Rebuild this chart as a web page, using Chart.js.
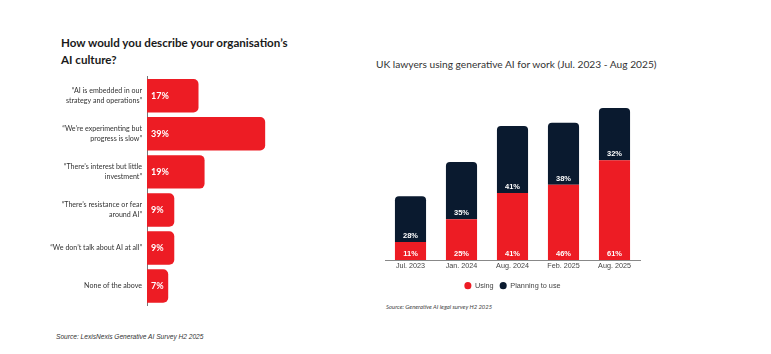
<!DOCTYPE html>
<html>
<head>
<meta charset="utf-8">
<script src="https://cdn.jsdelivr.net/npm/chart.js@4.4.1/dist/chart.umd.min.js"></script>
<style>
  body { margin: 0; background: #fff; width: 771px; height: 354px; position: relative; overflow: hidden; font-family: Lato, sans-serif; }
  .abs { position: absolute; white-space: nowrap; }
  #leftTitle { left: 61px; top: 34px; font-weight: bold; font-size: 11.6px; line-height: 17px; color: #1a1a1a; }
  #rightTitle { left: 376px; top: 58px; font-size: 10.2px; color: #333; }
  #leftSource { left: 56px; top: 333px; font-family: "Liberation Sans", Arial, sans-serif; font-style: italic; font-size: 6.6px; color: #333; }
  #rightSource { left: 386px; top: 303px; font-style: italic; font-size: 5.9px; color: #444; }
  #leftWrap { left: 0; top: 60px; width: 300px; height: 260px; }
  #rightWrap { left: 373px; top: 90px; width: 290px; height: 210px; }
</style>
</head>
<body>
<div class="abs" id="leftTitle">How would you describe your organisation’s<br>AI culture?</div>
<div class="abs" id="rightTitle">UK lawyers using generative AI for work (Jul. 2023 - Aug 2025)</div>
<div class="abs" id="leftWrap"><canvas id="leftChart"></canvas></div>
<div class="abs" id="rightWrap"><canvas id="rightChart"></canvas></div>
<div class="abs" id="rightSource">Source: Generative AI legal survey H2 2025</div>
<div class="abs" id="leftSource">Source: LexisNexis Generative AI Survey H2 2025</div>

<script>
// culture question
var cultureLabels = [
  ["“AI is embedded in our", "strategy and operations”"],
  ["“We’re experimenting but", "progress is slow”"],
  ["“There’s interest but little", "investment”"],
  ["“There’s resistance or fear", "around AI”"],
  "“We don’t talk about AI at all”",
  "None of the above"
];
var cultureValues = [17, 39, 19, 9, 9, 7];

// usage over time
var periods = ["Jul. 2023", "Jan. 2024", "Aug. 2024", "Feb. 2025", "Aug. 2025"];
var usingValues = [11, 25, 41, 46, 61];
var planningValues = [28, 35, 41, 38, 32];

var RED = "#ed1c24";
var NAVY = "#0a1a2f";

var leftLabelPlugin = {
  id: "leftLabels",
  afterDatasetsDraw: function(chart) {
    var ctx = chart.ctx;
    var meta = chart.getDatasetMeta(0);
    ctx.save();
    ctx.fillStyle = "#fff";
    ctx.font = "bold 9px Lato";
    ctx.textBaseline = "middle";
    ctx.textAlign = "left";
    meta.data.forEach(function(bar, i) {
      ctx.fillText(cultureValues[i] + "%", bar.base + 4, bar.y + 0.5);
    });
    ctx.restore();
  }
};

var rightLabelPlugin = {
  id: "rightLabels",
  afterDatasetsDraw: function(chart) {
    var ctx = chart.ctx;
    ctx.save();
    ctx.fillStyle = "#fff";
    ctx.font = "bold 7.5px 'Liberation Sans'";
    ctx.textBaseline = "middle";
    ctx.textAlign = "center";
    chart.data.datasets.forEach(function(ds, d) {
      chart.getDatasetMeta(d).data.forEach(function(bar, i) {
        ctx.fillText(ds.data[i] + "%", bar.x, bar.base - 6);
      });
    });
    ctx.restore();
  }
};

new Chart(document.getElementById("leftChart"), {
  type: "bar",
  data: {
    labels: cultureLabels,
    datasets: [{
      data: cultureValues,
      backgroundColor: RED,
      borderRadius: { topRight: 5, bottomRight: 5, topLeft: 0, bottomLeft: 0 },
      borderSkipped: false,
      categoryPercentage: 1,
      barPercentage: 0.88
    }]
  },
  options: {
    indexAxis: "y",
    responsive: true,
    maintainAspectRatio: false,
    animation: false,
    layout: { padding: { top: 16.75, bottom: 12.5, right: 1.5, left: 0 } },
    plugins: { legend: { display: false }, tooltip: { enabled: false } },
    scales: {
      x: { display: false, min: 0, max: 50 },
      y: {
        grid: { display: false, drawTicks: false },
        border: { display: true, color: "#777", width: 1 },
        afterFit: function(scale) { scale.width = 147; },
        ticks: {
          color: "#333",
          padding: 5,
          font: { family: "Lato", size: 7.1, lineHeight: 1.4 }
        }
      }
    }
  },
  plugins: [leftLabelPlugin]
});

new Chart(document.getElementById("rightChart"), {
  type: "bar",
  data: {
    labels: periods,
    datasets: [
      {
        label: "Using",
        data: usingValues,
        backgroundColor: RED,
        borderRadius: 0,
        categoryPercentage: 1,
        barPercentage: 0.61
      },
      {
        label: "Planning to use",
        data: planningValues,
        backgroundColor: NAVY,
        borderRadius: { topLeft: 4, topRight: 4, bottomLeft: 0, bottomRight: 0 },
        borderSkipped: false,
        categoryPercentage: 1,
        barPercentage: 0.61
      }
    ]
  },
  options: {
    responsive: true,
    maintainAspectRatio: false,
    animation: false,
    layout: { padding: { top: 6.5, left: 12, right: 23, bottom: 0.7 } },
    plugins: {
      tooltip: { enabled: false },
      legend: {
        position: "bottom",
        labels: {
          usePointStyle: true,
          pointStyle: "circle",
          boxWidth: 7,
          boxHeight: 5,
          padding: 6,
          color: "#444",
          font: { family: "Liberation Sans", size: 7.3 }
        }
      }
    },
    scales: {
      x: {
        stacked: true,
        grid: { display: false, drawTicks: false },
        border: { display: true, color: "#888", width: 1 },
        afterFit: function(scale) { scale.height = 16; },
        ticks: { color: "#444", padding: 2, font: { family: "Liberation Sans", size: 7.2 } }
      },
      y: { stacked: true, display: false, min: 0, max: 100 }
    }
  },
  plugins: [rightLabelPlugin]
});
</script>
</body>
</html>
